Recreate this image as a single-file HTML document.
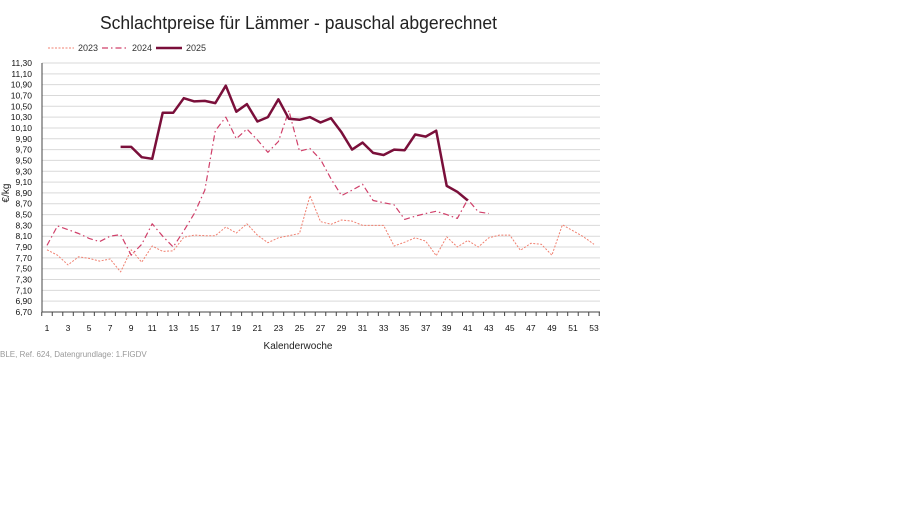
<!DOCTYPE html>
<html><head><meta charset="utf-8"><style>
body{margin:0;background:#fff;width:900px;height:506px;overflow:hidden}
svg{display:block;font-family:"Liberation Sans",sans-serif}
</style></head><body>
<svg id="s" width="900" height="506" xmlns="http://www.w3.org/2000/svg">
<text x="100" y="29" font-size="18" textLength="397" lengthAdjust="spacingAndGlyphs" fill="#222">Schlachtpreise für Lämmer - pauschal abgerechnet</text>
<line x1="48" y1="48" x2="74" y2="48" stroke="#f08070" stroke-width="1" stroke-dasharray="2,1.5"/>
<text x="78" y="51" font-size="9" fill="#333">2023</text>
<line x1="102" y1="48" x2="128" y2="48" stroke="#d0406a" stroke-width="1.2" stroke-dasharray="6,3,1.5,3"/>
<text x="132" y="51" font-size="9" fill="#333">2024</text>
<line x1="156" y1="48" x2="182" y2="48" stroke="#7a0f3a" stroke-width="2.5"/>
<text x="186" y="51" font-size="9" fill="#333">2025</text>
<g id="grid"></g>
<text transform="translate(9,193) rotate(-90)" font-size="10" fill="#222" text-anchor="middle">€/kg</text>
<text x="298" y="349" font-size="10" text-anchor="middle" fill="#222">Kalenderwoche</text>
<text x="0" y="357" font-size="8" fill="#999">BLE, Ref. 624, Datengrundlage: 1.FIGDV</text>
</svg>
<script>
const s=document.getElementById('s'),g=document.getElementById('grid'),NS='http://www.w3.org/2000/svg';
const Y=v=>312-(v-6.7)*249/4.6, X=w=>47+(w-1)*(547/52);
function el(t,a,p){const e=document.createElementNS(NS,t);for(const k in a)e.setAttribute(k,a[k]);(p||s).appendChild(e);return e;}
for(let i=0;i<=23;i++){const v=6.7+i*0.2,y=Y(v);
 if(i>0)el('line',{x1:42,x2:600,y1:y,y2:y,stroke:'#d9d9d9','stroke-width':1},g);
 el('text',{x:32,y:y+3,'font-size':8.5,'text-anchor':'end',fill:'#111'},g).textContent=v.toFixed(2).replace('.',',');}
el('line',{x1:42,x2:42,y1:63,y2:312,stroke:'#444','stroke-width':1},g);
el('line',{x1:42,x2:600,y1:312,y2:312,stroke:'#444','stroke-width':1},g);
for(let w=1;w<=53;w++){el('line',{x1:X(w)-5.26,x2:X(w)-5.26,y1:312,y2:316,stroke:'#444'},g);
 if(w%2)el('text',{x:X(w),y:331,'font-size':8.5,'text-anchor':'middle',fill:'#111'},g).textContent=w;}
el('line',{x1:X(53)+5.26,x2:X(53)+5.26,y1:312,y2:316,stroke:'#444'},g);
const d23=[7.85,7.75,7.57,7.72,7.69,7.64,7.68,7.44,7.85,7.62,7.92,7.82,7.83,8.08,8.12,8.11,8.11,8.27,8.16,8.33,8.12,7.98,8.07,8.11,8.15,8.85,8.37,8.32,8.40,8.38,8.30,8.30,8.30,7.92,7.99,8.07,8.01,7.74,8.09,7.90,8.02,7.90,8.07,8.12,8.12,7.84,7.97,7.95,7.75,8.31,8.20,8.09,7.95];
const d24=[7.93,8.29,8.22,8.15,8.06,8.00,8.10,8.13,7.75,7.95,8.33,8.10,7.90,8.20,8.52,8.95,10.05,10.30,9.90,10.08,9.88,9.65,9.85,10.42,9.67,9.72,9.52,9.16,8.85,8.95,9.06,8.76,8.72,8.68,8.41,8.47,8.52,8.56,8.50,8.43,8.78,8.55,8.52];
const d25=[9.75,9.75,9.56,9.53,10.38,10.38,10.65,10.59,10.60,10.56,10.88,10.40,10.54,10.22,10.30,10.63,10.27,10.25,10.30,10.20,10.28,10.02,9.70,9.83,9.64,9.60,9.70,9.69,9.98,9.94,10.05,9.03,8.92,8.76];
function pl(d,start,a){el('polyline',Object.assign({points:d.map((v,i)=>X(start+i).toFixed(1)+','+Y(v).toFixed(1)).join(' '),fill:'none','stroke-linejoin':'round'},a));}
pl(d23,1,{stroke:'#f08070','stroke-width':1,'stroke-dasharray':'2,1.5'});
pl(d24,1,{stroke:'#d0406a','stroke-width':1.2,'stroke-dasharray':'6,3,1.5,3'});
pl(d25,8,{stroke:'#7a0f3a','stroke-width':2.5});
</script>
</body></html>
